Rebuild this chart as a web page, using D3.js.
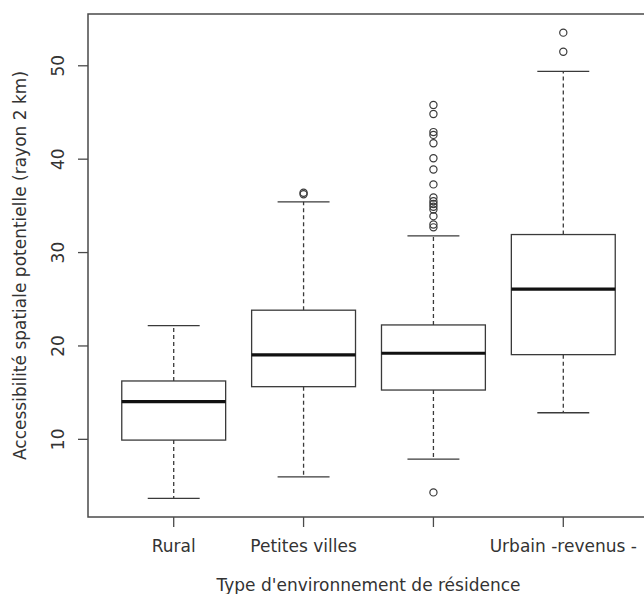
<!DOCTYPE html>
<html><head><meta charset="utf-8">
<script src="https://cdn.jsdelivr.net/npm/d3@7"></script>
<style>body{margin:0;background:#fff}svg{display:block}</style>
</head><body>
<script>
const categories = ["Rural", "Petites villes", "", "Urbain -revenus -"];
const lowerWhisker = [3.68, 5.99, 7.89, 12.85];
const q1 = [9.92, 15.64, 15.28, 19.07];
const median = [14.03, 19.04, 19.22, 26.08];
const q3 = [16.25, 23.83, 22.25, 31.93];
const upperWhisker = [22.18, 35.43, 31.79, 49.4];
const outliers = [
  [],
  [36.25, 36.4],
  [4.32, 32.7, 33.0, 33.9, 34.6, 34.9, 35.2, 35.5, 35.9, 37.3, 38.9, 40.1, 41.7, 42.6, 42.9, 44.84, 45.81],
  [51.5, 53.55]
];
const yTicks = [10, 20, 30, 40, 50];
const xTitle = "Type d'environnement de résidence";
const yTitle = "Accessibilité spatiale potentielle (rayon 2 km)";

const W = 644, H = 594;
const font = "'DejaVu Sans', sans-serif";
const fs = 17;
const plot = {left: 88, right: 649, top: 14, bottom: 517};

const svg = d3.select("body").append("svg").attr("width", W).attr("height", H);

const n = categories.length;
const xs = d3.scaleLinear().domain([0.5 - 0.04 * n, n + 0.5 + 0.04 * n]).range([plot.left, plot.right]);
const allVals = lowerWhisker.concat(upperWhisker, outliers.flat());
const lo = d3.min(allVals), hi = d3.max(allVals), pad = (hi - lo) * 0.04;
const ys = d3.scaleLinear().domain([lo - pad, hi + pad]).range([plot.bottom, plot.top]);

const boxW = xs(1.4) - xs(1), capW = xs(1.2) - xs(1);
const ink = "#3a3a3a";

categories.forEach((c, i) => {
  const cx = xs(i + 1);
  const g = svg.append("g");
  // whiskers
  g.append("line").attr("x1", cx).attr("x2", cx).attr("y1", ys(q3[i])).attr("y2", ys(upperWhisker[i]))
    .attr("stroke", ink).attr("stroke-width", 1.3).attr("stroke-dasharray", "4,3");
  g.append("line").attr("x1", cx).attr("x2", cx).attr("y1", ys(q1[i])).attr("y2", ys(lowerWhisker[i]))
    .attr("stroke", ink).attr("stroke-width", 1.3).attr("stroke-dasharray", "4,3");
  [upperWhisker[i], lowerWhisker[i]].forEach(v => {
    g.append("line").attr("x1", cx - capW).attr("x2", cx + capW).attr("y1", ys(v)).attr("y2", ys(v))
      .attr("stroke", ink).attr("stroke-width", 1.3);
  });
  // box
  g.append("rect").attr("x", cx - boxW).attr("width", 2 * boxW)
    .attr("y", ys(q3[i])).attr("height", ys(q1[i]) - ys(q3[i]))
    .attr("fill", "#fff").attr("stroke", ink).attr("stroke-width", 1.3);
  g.append("line").attr("x1", cx - boxW).attr("x2", cx + boxW).attr("y1", ys(median[i])).attr("y2", ys(median[i]))
    .attr("stroke", "#111").attr("stroke-width", 3.2);
  // outliers
  outliers[i].forEach(v => {
    g.append("circle").attr("cx", cx).attr("cy", ys(v)).attr("r", 3.6)
      .attr("fill", "none").attr("stroke", ink).attr("stroke-width", 1.2);
  });
});

// frame
svg.append("rect").attr("x", plot.left).attr("y", plot.top)
  .attr("width", plot.right - plot.left).attr("height", plot.bottom - plot.top)
  .attr("fill", "none").attr("stroke", "#4a4a4a").attr("stroke-width", 1.5);

// y axis ticks
yTicks.forEach(t => {
  svg.append("line").attr("x1", plot.left - 10).attr("x2", plot.left).attr("y1", ys(t)).attr("y2", ys(t))
    .attr("stroke", "#4a4a4a").attr("stroke-width", 1.3);
  svg.append("text").attr("transform", `translate(64,${ys(t)}) rotate(-90)`)
    .attr("text-anchor", "middle").attr("font-family", font).attr("font-size", fs).attr("fill", "#333")
    .text(t);
});

// x axis ticks
categories.forEach((c, i) => {
  const cx = xs(i + 1);
  svg.append("line").attr("x1", cx).attr("x2", cx).attr("y1", plot.bottom).attr("y2", plot.bottom + 10)
    .attr("stroke", "#4a4a4a").attr("stroke-width", 1.3);
  svg.append("text").attr("x", cx).attr("y", 552).attr("text-anchor", "middle")
    .attr("font-family", font).attr("font-size", fs).attr("fill", "#333").text(c);
});

svg.append("text").attr("x", (plot.left + plot.right) / 2).attr("y", 591).attr("text-anchor", "middle")
  .attr("font-family", font).attr("font-size", fs).attr("fill", "#333").text(xTitle);
svg.append("text").attr("transform", `translate(26,${(plot.top + plot.bottom) / 2}) rotate(-90)`)
  .attr("text-anchor", "middle").attr("font-family", font).attr("font-size", fs).attr("fill", "#333").text(yTitle);
</script>
</body></html>
